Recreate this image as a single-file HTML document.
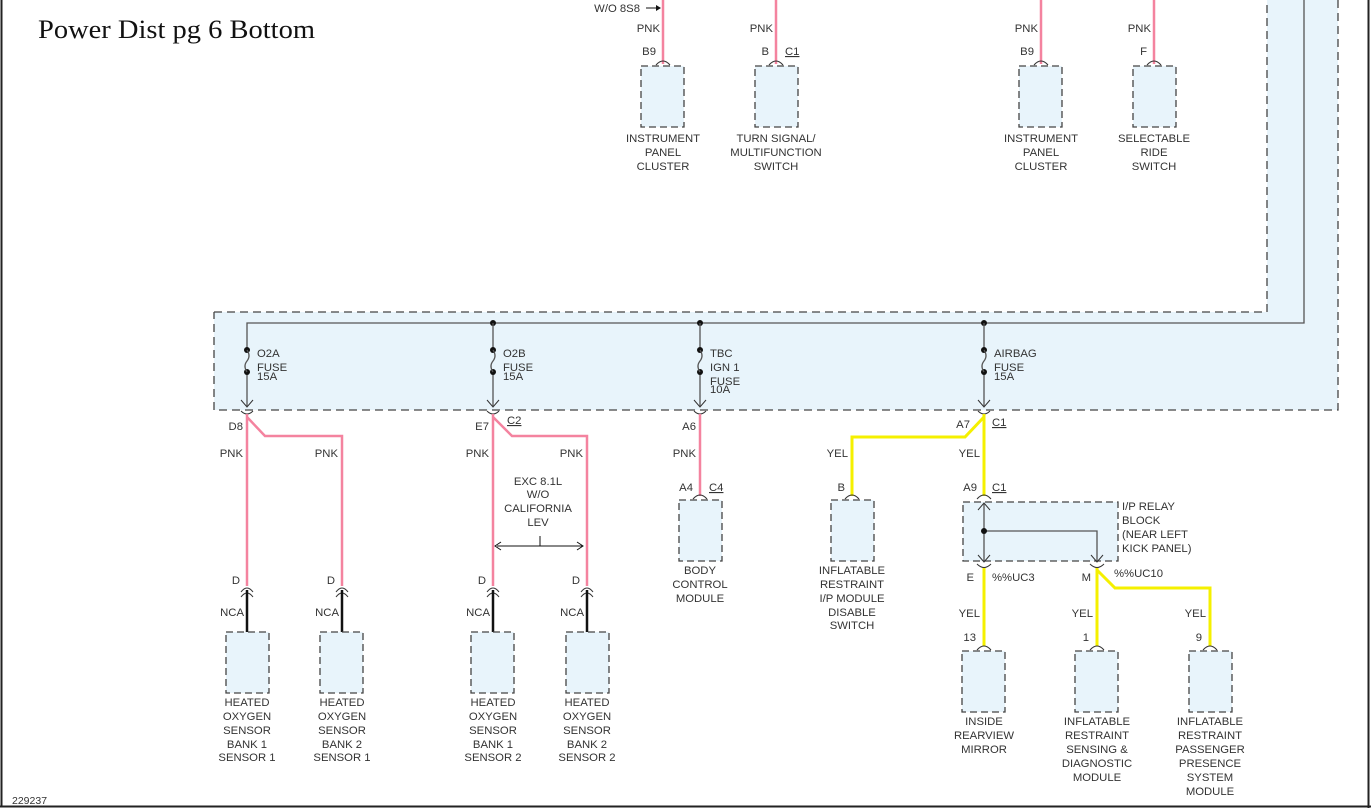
<!DOCTYPE html>
<html><head><meta charset="utf-8"><style>
html,body{margin:0;padding:0;background:#fff}
svg{display:block}
text{font-family:"Liberation Sans",Arial,sans-serif;font-size:11.3px;fill:#333}
.c{text-anchor:middle}.r{text-anchor:end}
.box{fill:#e8f4fb;stroke:#444;stroke-width:1.3;stroke-dasharray:7 4}
.pnk{stroke:#f4839f;stroke-width:2.5;fill:none}
.yel{stroke:#f5f000;stroke-width:3;fill:none}
.blk{stroke:#555;stroke-width:1.3;fill:none}
.arc{stroke:#333;stroke-width:1;fill:none}
</style></head><body>
<svg width="1371" height="808" viewBox="0 0 1371 808" xmlns="http://www.w3.org/2000/svg">
<line x1="1.5" y1="0" x2="1.5" y2="807" stroke="#222" stroke-width="2"/>
<line x1="0" y1="806.5" x2="1371" y2="806.5" stroke="#222" stroke-width="2"/>
<line x1="1368.5" y1="0" x2="1368.5" y2="808" stroke="#222" stroke-width="2"/>
<text x="38" y="38" textLength="277" lengthAdjust="spacingAndGlyphs" style="font-family:'Liberation Serif',serif;font-size:26px;fill:#111">Power Dist pg 6 Bottom</text>
<text x="12" y="804" style="font-size:10.5px">229237</text>

<path d="M214 312 H1267 V0 H1338 V410 H214 Z" fill="#e8f4fb"/>
<path d="M214 312 H1267 V0 M1338 0 V410 H214 V312" fill="none" stroke="#444" stroke-width="1.3" stroke-dasharray="8 5"/>
<path d="M247 406 V323 H1304 V0" class="blk"/>
<circle cx="493" cy="323" r="3" fill="#111"/><circle cx="700" cy="323" r="3" fill="#111"/><circle cx="984" cy="323" r="3" fill="#111"/>
<line x1="493" y1="323" x2="493" y2="406" class="blk"/>
<line x1="700" y1="323" x2="700" y2="406" class="blk"/>
<line x1="984" y1="323" x2="984" y2="406" class="blk"/>
<g>
<g transform="translate(247,0)"><rect x="-3" y="352" width="6" height="18" fill="#e8f4fb"/><circle cx="0" cy="350" r="3" fill="#111"/><circle cx="0" cy="372" r="3" fill="#111"/><path d="M0 350 Q4 356 0 361 Q-4 366 0 372" class="blk"/><path d="M-6 400 L0 407 L6 400" class="arc"/><path d="M-6 411 Q0 417 6 411" class="arc"/></g>
<g transform="translate(493,0)"><rect x="-3" y="352" width="6" height="18" fill="#e8f4fb"/><circle cx="0" cy="350" r="3" fill="#111"/><circle cx="0" cy="372" r="3" fill="#111"/><path d="M0 350 Q4 356 0 361 Q-4 366 0 372" class="blk"/><path d="M-6 400 L0 407 L6 400" class="arc"/><path d="M-6 411 Q0 417 6 411" class="arc"/></g>
<g transform="translate(700,0)"><rect x="-3" y="352" width="6" height="18" fill="#e8f4fb"/><circle cx="0" cy="350" r="3" fill="#111"/><circle cx="0" cy="372" r="3" fill="#111"/><path d="M0 350 Q4 356 0 361 Q-4 366 0 372" class="blk"/><path d="M-6 400 L0 407 L6 400" class="arc"/><path d="M-6 411 Q0 417 6 411" class="arc"/></g>
<g transform="translate(984,0)"><rect x="-3" y="352" width="6" height="18" fill="#e8f4fb"/><circle cx="0" cy="350" r="3" fill="#111"/><circle cx="0" cy="372" r="3" fill="#111"/><path d="M0 350 Q4 356 0 361 Q-4 366 0 372" class="blk"/><path d="M-6 400 L0 407 L6 400" class="arc"/><path d="M-6 411 Q0 417 6 411" class="arc"/></g>
</g>
<text x="257" y="357">O2A</text><text x="257" y="371">FUSE</text><text x="257" y="380">15A</text>
<text x="503" y="357">O2B</text><text x="503" y="371">FUSE</text><text x="503" y="380">15A</text>
<text x="710" y="357">TBC</text><text x="710" y="371">IGN 1</text><text x="710" y="385">FUSE</text><text x="710" y="393">10A</text>
<text x="994" y="357">AIRBAG</text><text x="994" y="371">FUSE</text><text x="994" y="380">15A</text>

<line x1="663" y1="0" x2="663" y2="64" class="pnk"/>
<line x1="776" y1="0" x2="776" y2="64" class="pnk"/>
<line x1="1041" y1="0" x2="1041" y2="64" class="pnk"/>
<line x1="1154" y1="0" x2="1154" y2="64" class="pnk"/>
<text x="640" y="12" class="r">W/O 8S8</text><path d="M646 8 H659" stroke="#111"/><path d="M656 5 L661 8 L656 11 Z" fill="#111"/>
<text x="660" y="32" class="r">PNK</text><text x="773" y="32" class="r">PNK</text><text x="1038" y="32" class="r">PNK</text><text x="1151" y="32" class="r">PNK</text>
<text x="656" y="55" class="r">B9</text><text x="769" y="55" class="r">B</text><text x="785" y="55" style="text-decoration:underline">C1</text>
<text x="1034" y="55" class="r">B9</text><text x="1147" y="55" class="r">F</text>
<rect x="641" y="66" width="43" height="61" class="box"/><path d="M656 65 Q663 57 670 65" class="arc"/>
<rect x="755" y="66" width="43" height="61" class="box"/><path d="M769 65 Q776 57 783 65" class="arc"/>
<rect x="1019" y="66" width="43" height="61" class="box"/><path d="M1034 65 Q1041 57 1048 65" class="arc"/>
<rect x="1133" y="66" width="43" height="61" class="box"/><path d="M1147 65 Q1154 57 1161 65" class="arc"/>
<text x="663" y="142" class="c">INSTRUMENT</text><text x="663" y="156" class="c">PANEL</text><text x="663" y="170" class="c">CLUSTER</text>
<text x="776" y="142" class="c">TURN SIGNAL/</text><text x="776" y="156" class="c">MULTIFUNCTION</text><text x="776" y="170" class="c">SWITCH</text>
<text x="1041" y="142" class="c">INSTRUMENT</text><text x="1041" y="156" class="c">PANEL</text><text x="1041" y="170" class="c">CLUSTER</text>
<text x="1154" y="142" class="c">SELECTABLE</text><text x="1154" y="156" class="c">RIDE</text><text x="1154" y="170" class="c">SWITCH</text>

<path d="M247 414 V586 M247 417 L265 436 H342 V586" class="pnk"/>
<path d="M493 414 V586 M493 417 L512 436 H587 V586" class="pnk"/>
<text x="243" y="430" class="r">D8</text>
<text x="489" y="430" class="r">E7</text><text x="507" y="424" style="text-decoration:underline">C2</text>
<text x="243" y="457" class="r">PNK</text><text x="338" y="457" class="r">PNK</text>
<text x="489" y="457" class="r">PNK</text><text x="583" y="457" class="r">PNK</text>
<text x="538" y="485" class="c">EXC 8.1L</text><text x="538" y="498" class="c">W/O</text><text x="538" y="512" class="c">CALIFORNIA</text><text x="538" y="526" class="c">LEV</text>
<path d="M497 546 H583 M540 536 V546" stroke="#111"/>
<path d="M501 542 L495 546 L501 550 M577 542 L583 546 L577 550" stroke="#111" fill="none"/>
<g transform="translate(247,0)"><path d="M-6 592 Q0 584 6 592 M-6 597 Q0 589 6 597" class="arc"/><line x1="0" y1="590" x2="0" y2="633" stroke="#111" stroke-width="2.5"/></g>
<g transform="translate(342,0)"><path d="M-6 592 Q0 584 6 592 M-6 597 Q0 589 6 597" class="arc"/><line x1="0" y1="590" x2="0" y2="633" stroke="#111" stroke-width="2.5"/></g>
<g transform="translate(493,0)"><path d="M-6 592 Q0 584 6 592 M-6 597 Q0 589 6 597" class="arc"/><line x1="0" y1="590" x2="0" y2="633" stroke="#111" stroke-width="2.5"/></g>
<g transform="translate(587,0)"><path d="M-6 592 Q0 584 6 592 M-6 597 Q0 589 6 597" class="arc"/><line x1="0" y1="590" x2="0" y2="633" stroke="#111" stroke-width="2.5"/></g>
<text x="240" y="584" class="r">D</text><text x="335" y="584" class="r">D</text><text x="486" y="584" class="r">D</text><text x="580" y="584" class="r">D</text>
<text x="244" y="616" class="r">NCA</text><text x="339" y="616" class="r">NCA</text><text x="490" y="616" class="r">NCA</text><text x="584" y="616" class="r">NCA</text>
<rect x="226" y="632" width="43" height="61" class="box"/>
<rect x="320" y="632" width="43" height="61" class="box"/>
<rect x="471" y="632" width="43" height="61" class="box"/>
<rect x="566" y="632" width="43" height="61" class="box"/>
<text x="247" y="706" class="c">HEATED</text><text x="247" y="720" class="c">OXYGEN</text><text x="247" y="734" class="c">SENSOR</text><text x="247" y="748" class="c">BANK 1</text><text x="247" y="761" class="c">SENSOR 1</text>
<text x="342" y="706" class="c">HEATED</text><text x="342" y="720" class="c">OXYGEN</text><text x="342" y="734" class="c">SENSOR</text><text x="342" y="748" class="c">BANK 2</text><text x="342" y="761" class="c">SENSOR 1</text>
<text x="493" y="706" class="c">HEATED</text><text x="493" y="720" class="c">OXYGEN</text><text x="493" y="734" class="c">SENSOR</text><text x="493" y="748" class="c">BANK 1</text><text x="493" y="761" class="c">SENSOR 2</text>
<text x="587" y="706" class="c">HEATED</text><text x="587" y="720" class="c">OXYGEN</text><text x="587" y="734" class="c">SENSOR</text><text x="587" y="748" class="c">BANK 2</text><text x="587" y="761" class="c">SENSOR 2</text>

<line x1="700" y1="414" x2="700" y2="496" class="pnk"/>
<text x="696" y="430" class="r">A6</text><text x="696" y="457" class="r">PNK</text>
<text x="693" y="491" class="r">A4</text><text x="709" y="491" style="text-decoration:underline">C4</text>
<rect x="679" y="500" width="43" height="61" class="box"/><path d="M693 499 Q700 491 707 499" class="arc"/>
<text x="700" y="574" class="c">BODY</text><text x="700" y="588" class="c">CONTROL</text><text x="700" y="602" class="c">MODULE</text>

<path d="M984 414 V496 M984 417 L965 437 H852 V496" class="yel"/>
<text x="970" y="428" class="r">A7</text><text x="992" y="426" style="text-decoration:underline">C1</text>
<text x="848" y="457" class="r">YEL</text><text x="980" y="457" class="r">YEL</text>
<text x="845" y="491" class="r">B</text>
<text x="977" y="491" class="r">A9</text><text x="992" y="491" style="text-decoration:underline">C1</text>
<rect x="831" y="500" width="43" height="61" class="box"/><path d="M845 499 Q852 491 859 499" class="arc"/>
<text x="852" y="574" class="c">INFLATABLE</text><text x="852" y="588" class="c">RESTRAINT</text><text x="852" y="602" class="c">I/P MODULE</text><text x="852" y="616" class="c">DISABLE</text><text x="852" y="629" class="c">SWITCH</text>
<path d="M977 499 Q984 491 991 499" class="arc"/>
<rect x="963" y="502" width="155" height="59" class="box"/>
<path d="M984 504 V561 M984 531 H1097 V561" class="blk"/>
<circle cx="984" cy="531" r="3" fill="#111"/>
<path d="M978 510 L984 503 L990 510 M978 555 L984 562 L990 555 M1091 555 L1097 562 L1103 555" class="arc"/>
<path d="M977 564 Q984 571 991 564 M1090 564 Q1097 571 1104 564" class="arc"/>
<text x="1122" y="510">I/P RELAY</text><text x="1122" y="524">BLOCK</text><text x="1122" y="538">(NEAR LEFT</text><text x="1122" y="552">KICK PANEL)</text>
<text x="974" y="581" class="r">E</text><text x="992" y="581">%%UC3</text>
<text x="1091" y="581" class="r">M</text><text x="1114" y="577">%%UC10</text>
<path d="M984 568 V646 M1097 568 V646 M1097 570 L1115 588 H1210 V646" class="yel"/>
<text x="980" y="617" class="r">YEL</text><text x="1093" y="617" class="r">YEL</text><text x="1206" y="617" class="r">YEL</text>
<text x="976" y="641" class="r">13</text><text x="1089" y="641" class="r">1</text><text x="1202" y="641" class="r">9</text>
<rect x="962" y="651" width="43" height="61" class="box"/><path d="M977 650 Q984 642 991 650" class="arc"/>
<rect x="1075" y="651" width="43" height="61" class="box"/><path d="M1090 650 Q1097 642 1104 650" class="arc"/>
<rect x="1189" y="651" width="43" height="61" class="box"/><path d="M1203 650 Q1210 642 1217 650" class="arc"/>
<text x="984" y="725" class="c">INSIDE</text><text x="984" y="739" class="c">REARVIEW</text><text x="984" y="753" class="c">MIRROR</text>
<text x="1097" y="725" class="c">INFLATABLE</text><text x="1097" y="739" class="c">RESTRAINT</text><text x="1097" y="753" class="c">SENSING &amp;</text><text x="1097" y="767" class="c">DIAGNOSTIC</text><text x="1097" y="781" class="c">MODULE</text>
<text x="1210" y="725" class="c">INFLATABLE</text><text x="1210" y="739" class="c">RESTRAINT</text><text x="1210" y="753" class="c">PASSENGER</text><text x="1210" y="767" class="c">PRESENCE</text><text x="1210" y="781" class="c">SYSTEM</text><text x="1210" y="795" class="c">MODULE</text>
</svg>
</body></html>
